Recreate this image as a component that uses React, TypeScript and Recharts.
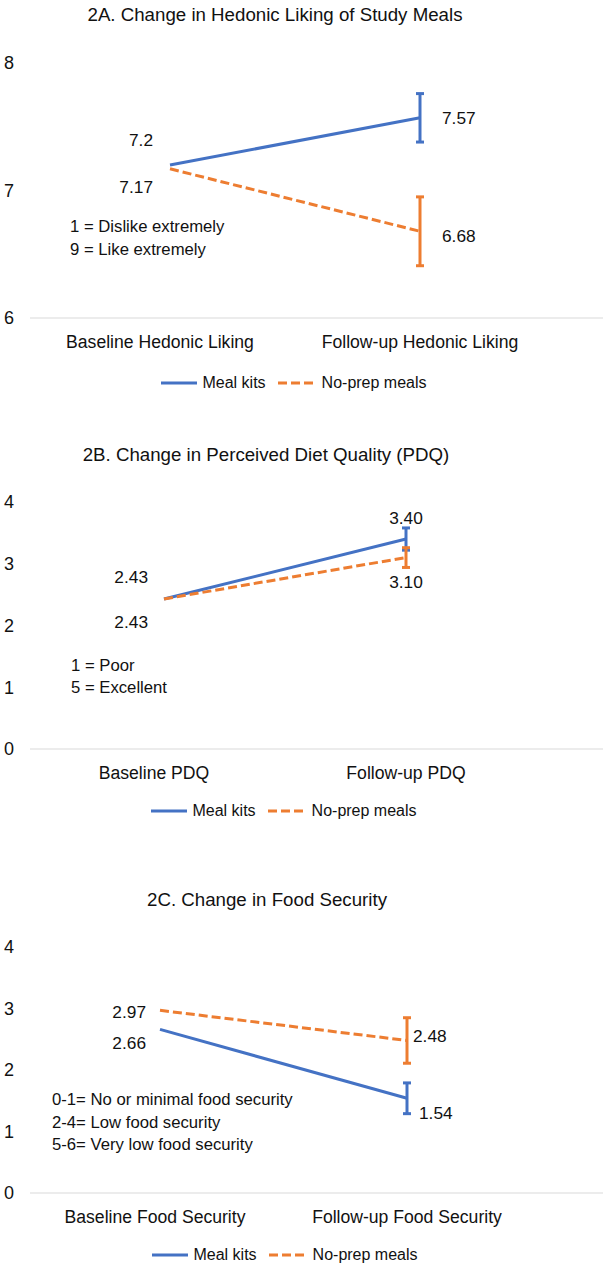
import React from 'react';
import { LineChart, Line, XAxis, YAxis, ErrorBar, LabelList, Legend } from 'recharts';

const FONT = '"Liberation Sans", Arial, Helvetica, sans-serif';
const BLUE = '#4472C4';
const ORANGE = '#ED7D31';
const TEXT = '#111';

// 2A - hedonic liking
const hedonicCats = ['Baseline Hedonic Liking', 'Follow-up Hedonic Liking'];
const hedonicMealKits = [7.2, 7.57];
const hedonicNoPrep = [7.17, 6.68];
const hedonicMealKitsErr = [null, 0.19];
const hedonicNoPrepErr = [null, 0.27];
const hedonicTicks = [6, 7, 8];
const hedonicNotes = ['1 = Dislike extremely', '9 = Like extremely'];

// 2B - perceived diet quality
const pdqCats = ['Baseline PDQ', 'Follow-up PDQ'];
const pdqMealKits = [2.43, 3.4];
const pdqNoPrep = [2.43, 3.1];
const pdqMealKitsErr = [null, 0.18];
const pdqNoPrepErr = [null, 0.16];
const pdqTicks = [0, 1, 2, 3, 4];
const pdqNotes = ['1 = Poor', '5 = Excellent'];

// 2C - food security
const fsCats = ['Baseline Food Security', 'Follow-up Food Security'];
const fsMealKits = [2.66, 1.54];
const fsNoPrep = [2.97, 2.48];
const fsMealKitsErr = [null, 0.25];
const fsNoPrepErr = [null, 0.37];
const fsTicks = [0, 1, 2, 3, 4];
const fsNotes = ['0-1= No or minimal food security', '2-4= Low food security', '5-6= Very low food security'];

const seriesNames = ['Meal kits', 'No-prep meals'];

type Off = { dx: number; dy: number; anchor: 'start' | 'middle' | 'end' };

const makeLabel = (offs: Off[], fmt: (v: number) => string) => (props: any) => {
  const vb = props.viewBox || {};
  const x = vb.x ?? props.x;
  const y = vb.y ?? props.y;
  const o = offs[props.index];
  if (!o || x == null || y == null) return null;
  return (
    <text x={x + o.dx} y={y + o.dy} dy="0.36em" textAnchor={o.anchor} fontSize={17.3} fontFamily={FONT} fill={TEXT}>
      {fmt(Number(props.value))}
    </text>
  );
};

const LegendBox = () => (
  <div style={{ display: 'flex', justifyContent: 'center', alignItems: 'center', fontSize: 16, fontFamily: FONT, color: TEXT, lineHeight: '18px' }}>
    {seriesNames.map((n, i) => (
      <div key={n} style={{ display: 'flex', alignItems: 'center', marginLeft: i ? 12 : 0 }}>
        <svg width={36} height={8}>
          <line x1={0} y1={4} x2={36} y2={4} stroke={i ? ORANGE : BLUE} strokeWidth={3} strokeDasharray={i ? '9 4' : undefined} />
        </svg>
        <span style={{ marginLeft: i ? 8 : 5 }}>{n}</span>
      </div>
    ))}
  </div>
);

interface PanelProps {
  top: number;
  height: number;
  title: string;
  titleX: number;
  titleY: number;
  cats: string[];
  meal: number[];
  noprep: number[];
  mealErr: (number | null)[];
  noprepErr: (number | null)[];
  domain: [number, number];
  ticks: number[];
  plotTop: number;
  plotBottom: number;
  padL: number;
  padR: number;
  firstShift: number;
  mealOffs: Off[];
  noprepOffs: Off[];
  fmt: (v: number) => string;
  notes: string[];
  notesX: number;
  notesY: number;
  notesGap: number;
  legendX: number;
  legendY: number;
}

function Panel(p: PanelProps) {
  const data = p.cats.map((c, i) => ({
    name: c,
    meal: p.meal[i],
    noprep: p.noprep[i],
    mealErr: p.mealErr[i],
    noprepErr: p.noprepErr[i],
  }));
  return (
    <div style={{ position: 'absolute', left: 0, top: p.top, width: 603, height: p.height }}>
      <div style={{ position: 'absolute', left: p.titleX - 300, width: 600, top: p.titleY - 11, textAlign: 'center', fontSize: 18.7, lineHeight: '22px', fontFamily: FONT, color: TEXT }}>
        {p.title}
      </div>
      <LineChart width={603} height={p.height} data={data} margin={{ top: p.plotTop, right: 0, bottom: p.height - p.plotBottom - 40, left: 0 }}>
        <XAxis
          dataKey="name"
          height={40}
          interval={0}
          padding={{ left: p.padL, right: p.padR }}
          axisLine={{ stroke: '#d9d9d9', strokeWidth: 1 }}
          tickLine={false}
          tickSize={0}
          tickMargin={18}
          tick={(t: any) => (
            <text x={t.x + (t.index === 0 ? p.firstShift : 0)} y={t.y} dy="0.71em" textAnchor="middle" fontSize={17.6} fontFamily={FONT} fill={TEXT}>
              {t.payload.value}
            </text>
          )}
        />
        <YAxis
          width={30}
          domain={p.domain}
          ticks={p.ticks}
          interval={0}
          axisLine={false}
          tickLine={false}
          tickSize={0}
          tickMargin={16}
          tick={{ fill: TEXT, fontSize: 18, fontFamily: FONT }}
        />
        <Legend
          layout="horizontal"
          verticalAlign="middle"
          align="center"
          content={() => <LegendBox />}
          wrapperStyle={{ left: p.legendX - 200, width: 400, top: p.legendY - 9 }}
        />
        <Line dataKey="meal" name={seriesNames[0]} stroke={BLUE} strokeWidth={3} dot={false} isAnimationActive={false}>
          <ErrorBar dataKey="mealErr" width={4} stroke={BLUE} strokeWidth={3} />
          <LabelList dataKey="meal" content={makeLabel(p.mealOffs, p.fmt)} />
        </Line>
        <Line dataKey="noprep" name={seriesNames[1]} stroke={ORANGE} strokeWidth={3} strokeDasharray="9 4" dot={false} isAnimationActive={false}>
          <ErrorBar dataKey="noprepErr" width={4} stroke={ORANGE} strokeWidth={3} />
          <LabelList dataKey="noprep" content={makeLabel(p.noprepOffs, p.fmt)} />
        </Line>
      </LineChart>
      {p.notes.map((n, i) => (
        <div key={n} style={{ position: 'absolute', left: p.notesX, top: p.notesY + i * p.notesGap - 11, fontSize: 16.7, lineHeight: '22px', fontFamily: FONT, color: TEXT, whiteSpace: 'nowrap' }}>
          {n}
        </div>
      ))}
    </div>
  );
}

const raw = (v: number) => String(v);
const fixed2 = (v: number) => v.toFixed(2);

export default function App() {
  return (
    <div style={{ position: 'absolute', left: 0, top: 0, width: 603, height: 1270, background: '#fff' }}>
      <Panel
        top={0}
        height={410}
        title="2A. Change in Hedonic Liking of Study Meals"
        titleX={275}
        titleY={15}
        cats={hedonicCats}
        meal={hedonicMealKits}
        noprep={hedonicNoPrep}
        mealErr={hedonicMealKitsErr}
        noprepErr={hedonicNoPrepErr}
        domain={[6, 8]}
        ticks={hedonicTicks}
        plotTop={63}
        plotBottom={318}
        padL={140}
        padR={183}
        firstShift={-10}
        mealOffs={[{ dx: -17, dy: -25, anchor: 'end' }, { dx: 22, dy: 0, anchor: 'start' }]}
        noprepOffs={[{ dx: -17, dy: 18, anchor: 'end' }, { dx: 22, dy: 4, anchor: 'start' }]}
        fmt={raw}
        notes={hedonicNotes}
        notesX={70}
        notesY={227}
        notesGap={23}
        legendX={294}
        legendY={383}
      />
      <Panel
        top={420}
        height={410}
        title="2B. Change in Perceived Diet Quality (PDQ)"
        titleX={266}
        titleY={35}
        cats={pdqCats}
        meal={pdqMealKits}
        noprep={pdqNoPrep}
        mealErr={pdqMealKitsErr}
        noprepErr={pdqNoPrepErr}
        domain={[0, 4]}
        ticks={pdqTicks}
        plotTop={82}
        plotBottom={329}
        padL={134}
        padR={197}
        firstShift={-10}
        mealOffs={[{ dx: -16, dy: -22, anchor: 'end' }, { dx: 0, dy: -21, anchor: 'middle' }]}
        noprepOffs={[{ dx: -16, dy: 23, anchor: 'end' }, { dx: 0, dy: 24, anchor: 'middle' }]}
        fmt={fixed2}
        notes={pdqNotes}
        notesX={71}
        notesY={246}
        notesGap={21.5}
        legendX={284}
        legendY={391}
      />
      <Panel
        top={840}
        height={430}
        title="2C. Change in Food Security"
        titleX={267}
        titleY={60}
        cats={fsCats}
        meal={fsMealKits}
        noprep={fsNoPrep}
        mealErr={fsMealKitsErr}
        noprepErr={fsNoPrepErr}
        domain={[0, 4]}
        ticks={fsTicks}
        plotTop={107}
        plotBottom={353}
        padL={130}
        padR={196}
        firstShift={-5}
        mealOffs={[{ dx: -14, dy: 13, anchor: 'end' }, { dx: 12, dy: 14, anchor: 'start' }]}
        noprepOffs={[{ dx: -14, dy: 1, anchor: 'end' }, { dx: 6, dy: -5, anchor: 'start' }]}
        fmt={raw}
        notes={fsNotes}
        notesX={52}
        notesY={260}
        notesGap={22.5}
        legendX={285}
        legendY={415}
      />
    </div>
  );
}
